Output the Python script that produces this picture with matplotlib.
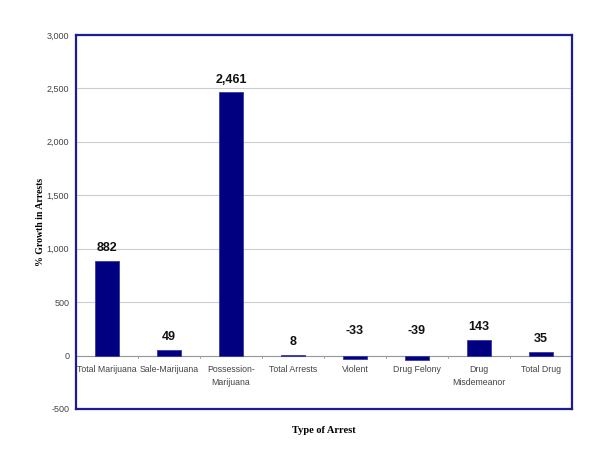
import matplotlib
matplotlib.use("Agg")
import matplotlib.pyplot as plt
from matplotlib.ticker import FuncFormatter, MultipleLocator

categories = ["Total Marijuana", "Sale-Marijuana", "Possession-\nMarijuana",
              "Total Arrests", "Violent", "Drug Felony", "Drug\nMisdemeanor",
              "Total Drug"]
growth = [882, 49, 2461, 8, -33, -39, 143, 35]

plt.rcParams["font.family"] = ["Liberation Sans", "DejaVu Sans"]

fig = plt.figure(figsize=(6.0, 4.59), dpi=100)
ax = fig.add_axes([0.127, 0.109, 0.826, 0.815])

x = list(range(len(categories)))
ax.bar(x, growth, width=0.39, color="#000080", edgecolor="#3a3aa0", linewidth=0.6, zorder=3)

ax.set_xlim(-0.5, len(categories) - 0.5)
ax.set_ylim(-500, 3000)
ax.yaxis.set_major_locator(MultipleLocator(500))
ax.yaxis.set_major_formatter(FuncFormatter(lambda v, p: f"{int(v):,}"))
ax.grid(axis="y", color="#cccccc", linewidth=0.8, zorder=0)
ax.tick_params(axis="y", length=0, labelsize=6.5, labelcolor="#444444", pad=5)
ax.set_xticks([])
ax.axhline(0, color="#999999", linewidth=0.8, zorder=2)

for spine in ax.spines.values():
    spine.set_color("#1c1c96")
    spine.set_linewidth(1.6)

# small ticks on zero line between categories
for b in range(1, len(categories)):
    ax.plot([b - 0.5, b - 0.5], [0, -25], color="#999999", linewidth=0.6, zorder=2)

for i, (name, val) in enumerate(zip(categories, growth)):
    top = max(val, 0)
    off = 5 if val >= 0 else 13
    ax.annotate(f"{val:,}", (i, top), xytext=(0, off), textcoords="offset points",
                ha="center", va="bottom", fontsize=9, fontweight="bold", color="#111111")
    ax.annotate(name, (i, 0), xytext=(0, -6.5), textcoords="offset points",
                ha="center", va="top", fontsize=6.3, color="#444444", linespacing=1.6)

ax.set_ylabel("% Growth in Arrests", fontsize=7, fontweight="bold",
              family="Liberation Serif", labelpad=1)
ax.set_xlabel("Type of Arrest", fontsize=7.5, fontweight="bold",
              family="Liberation Serif", labelpad=12)

fig.savefig("out.png", dpi=100)
